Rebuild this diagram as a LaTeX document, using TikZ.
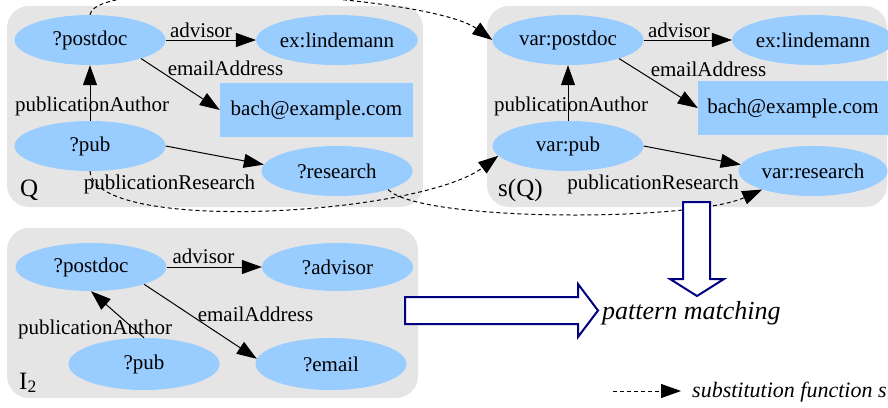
\documentclass[tikz,border=0pt]{standalone}
\usepackage{fontspec}
\setmainfont{Liberation Serif}
\usetikzlibrary{shapes.geometric,arrows.meta}
\definecolor{nodeblue}{HTML}{99CCFF}
\definecolor{panelgray}{HTML}{E5E5E5}
\definecolor{navyarrow}{HTML}{000080}
\tikzset{
  txt/.style={font=\fontsize{21}{25}\selectfont},
  ell/.style={ellipse, fill=nodeblue, inner sep=0pt, minimum width=151, minimum height=50, txt},
  rbox/.style={rectangle, fill=nodeblue, inner sep=0pt, minimum width=193, minimum height=54, txt},
  panel/.style={fill=panelgray, rounded corners=22},
  elabel/.style={txt, anchor=base, inner sep=0pt},
  plabel/.style={font=\fontsize{25}{29}\selectfont, anchor=base west, inner sep=0pt},
  rel/.style={draw=black, line width=1pt, -{Triangle[length=20pt,width=14pt]}},
  subst/.style={draw=black, line width=1pt, dash pattern=on 4pt off 3pt, -{Triangle[length=20pt,width=14pt]}},
  bigarrow/.style={draw=navyarrow, line width=2pt, fill=white, line join=miter},
}
\begin{document}
\begin{tikzpicture}[x=1pt,y=-1pt]
\useasboundingbox (0,0) rectangle (888,407);
% panels
\fill[panel] (7,6) rectangle (423,207);
\fill[panel] (487,6) rectangle (887,207);
\fill[panel] (7,228) rectangle (418,398);

% Q
\node[ell] (qpost) at (90,40) {?postdoc};
\node[ell] (qlind) at (337,40) {ex:lindemann};
\node[rbox] (qbach) at (316.5,110) {bach@example.com};
\node[ell] (qpub) at (90,146) {?pub};
\node[ell] (qres) at (337,171) {?research};
\node[plabel] (qlab) at (20,196) {Q};
\draw[rel] (qpost.east) -- (qlind.west);
\draw[rel] (qpost.340) -- (qbach.west);
\draw[rel] (qpub.north) -- (qpost.south);
\draw[rel] (qpub.east) -- (qres.175);
\node[elabel] (ql1) at (201,37) {advisor};
\node[elabel] (ql2) at (225.5,75) {emailAddress};
\node[elabel] (ql3) at (92,111) {publicationAuthor};
\node[elabel] (ql4) at (169.5,189) {publicationResearch};

% s(Q)
\node[ell] (spost) at (568,40) {var:postdoc};
\node[ell, minimum width=149] (slind) at (813,40) {ex:lindemann};
\node[rbox, minimum width=190] (sbach) at (793,108) {bach@example.com};
\node[ell] (spub) at (568,146) {var:pub};
\node[ell, minimum width=149] (sres) at (813,171) {var:research};
\node[plabel] (slab) at (498,196) {s(Q)};
\draw[rel] (spost.east) -- (slind.west);
\draw[rel] (spost.340) -- (sbach.west);
\draw[rel] (spub.north) -- (spost.south);
\draw[rel] (spub.east) -- (sres.175);
\node[elabel] (sl1) at (679,37) {advisor};
\node[elabel] (sl2) at (708.5,76) {emailAddress};
\node[elabel] (sl3) at (571,111) {publicationAuthor};
\node[elabel] (sl4) at (653,189) {publicationResearch};

% I2
\node[ell, minimum height=48] (ipost) at (91,267) {?postdoc};
\node[ell, minimum height=48] (iadv) at (337.5,267) {?advisor};
\node[ell, minimum height=52] (ipub) at (144,364) {?pub};
\node[ell, minimum height=52] (iemail) at (331,364) {?email};
\node[plabel] (ilab) at (19,389) {I\textsubscript{2}};
\draw[rel] (ipost.east) -- (iadv.west);
\draw[rel] (ipost.342) -- (iemail.176);
\draw[rel] (ipub.north) -- (ipost.south);
\node[elabel] (il1) at (203.5,263) {advisor};
\node[elabel] (il2) at (255.5,321) {emailAddress};
\node[elabel] (il3) at (95,334) {publicationAuthor};

% substitution function curves
\draw[subst] (qpost.north) .. controls (95,-25) and (430,-5) .. (spost.west);
\draw[subst] (qpub.south) .. controls (95,235) and (420,215) .. (spub.188);
\draw[subst] (qres.340) .. controls (420,222) and (690,222) .. (sres.200);

% pattern matching arrows
\draw[bigarrow] (405,297) -- (578,297) -- (578,284) -- (598,310.5) -- (578,337) -- (578,324) -- (405,324) -- cycle;
\draw[bigarrow] (683,202) -- (710,202) -- (710,279) -- (724,279) -- (697,296) -- (670,279) -- (683,279) -- cycle;
\node[font=\fontsize{26}{30}\selectfont\itshape, anchor=base west, inner sep=0pt] (pm) at (602,319) {pattern matching};

% legend
\coordinate (legA) at (613,391);
\coordinate (legB) at (681,391);
\draw[subst] (legA) -- (legB);
\node[font=\fontsize{22}{26}\selectfont\itshape, anchor=base west, inner sep=0pt] (legtxt) at (692,397) {substitution function s};
\end{tikzpicture}
\end{document}
